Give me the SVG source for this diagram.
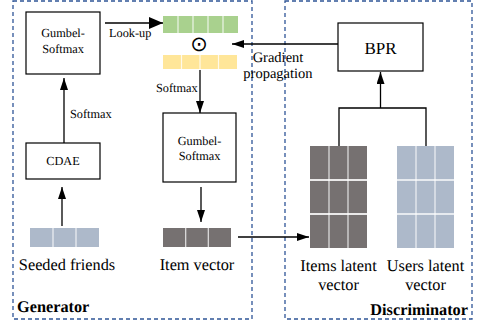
<svg xmlns="http://www.w3.org/2000/svg" width="491" height="329" viewBox="0 0 491 329">
<style>
.box{fill:#fff;stroke:#000;stroke-width:1.2}
.frame{fill:none;stroke:#2f5597;stroke-width:1.3;stroke-dasharray:4 3}
.ln{fill:none;stroke:#000;stroke-width:1.3}
.sep{stroke:#fff;stroke-width:1.2;opacity:0.8}
</style>
<defs>
<marker id="ah" markerUnits="userSpaceOnUse" markerWidth="12" markerHeight="8" refX="12" refY="4" orient="auto">
<path d="M0,0 L12,4 L0,8 z" fill="#000"/>
</marker>
<marker id="ahL" markerUnits="userSpaceOnUse" markerWidth="14" markerHeight="12" refX="14" refY="6" orient="auto">
<path d="M0,0 L14,6 L0,12 z" fill="#000"/>
</marker>
</defs>
<rect width="491" height="329" fill="#fff"/>

<g font-family="Liberation Serif" fill="#000" text-rendering="geometricPrecision">
<g id="generator-frame">
<rect class="frame" x="13" y="1" width="239" height="318"/>
<text x="17" y="312" font-size="16.3" font-weight="bold">Generator</text>
</g>
<g id="discriminator-frame">
<rect class="frame" x="285" y="1" width="187" height="318"/>
<text x="468" y="315" font-size="16.3" font-weight="bold" text-anchor="end">Discriminator</text>
</g>

<g id="gumbel1">
<rect class="box" x="26" y="12" width="74" height="62"/>
<text x="63" y="37" font-size="12.3" text-anchor="middle">Gumbel-</text>
<text x="63" y="53" font-size="12.3" text-anchor="middle">Softmax</text>
</g>

<g id="cdae">
<rect class="box" x="26" y="143" width="74" height="36"/>
<text x="63" y="165" font-size="12.3" text-anchor="middle">CDAE</text>
</g>

<g id="seeded-friends">
<rect x="30" y="228" width="69" height="19" fill="#adb9ca"/>
<line class="sep" x1="53" y1="228" x2="53" y2="247"/>
<line class="sep" x1="76" y1="228" x2="76" y2="247"/>
<text x="67" y="270" font-size="16.3" text-anchor="middle">Seeded friends</text>
</g>

<g id="embedding-green">
<rect x="163" y="16" width="75" height="17" fill="#a9d18e"/>
<line class="sep" x1="178" y1="16" x2="178" y2="33"/>
<line class="sep" x1="193" y1="16" x2="193" y2="33"/>
<line class="sep" x1="208" y1="16" x2="208" y2="33"/>
<line class="sep" x1="223" y1="16" x2="223" y2="33"/>
</g>

<g id="odot">
<text x="199" y="51" text-anchor="middle" font-family="DejaVu Sans" font-size="21">⊙</text>
</g>

<g id="embedding-yellow">
<rect x="163" y="55" width="74" height="14" fill="#ffe699"/>
<line class="sep" x1="181.5" y1="55" x2="181.5" y2="69"/>
<line class="sep" x1="200" y1="55" x2="200" y2="69"/>
<line class="sep" x1="218.5" y1="55" x2="218.5" y2="69"/>
</g>

<g id="gumbel2">
<rect class="box" x="163" y="113" width="73" height="69"/>
<text x="199.5" y="145" font-size="12.3" text-anchor="middle">Gumbel-</text>
<text x="199.5" y="160" font-size="12.3" text-anchor="middle">Softmax</text>
</g>

<g id="item-vector">
<rect x="163" y="228" width="68" height="19" fill="#767171"/>
<line class="sep" x1="185.7" y1="228" x2="185.7" y2="247"/>
<line class="sep" x1="208.3" y1="228" x2="208.3" y2="247"/>
<text x="197" y="270" font-size="16.3" text-anchor="middle">Item vector</text>
</g>

<g id="bpr">
<rect class="box" x="338" y="23" width="85" height="48"/>
<text x="380.5" y="54" text-anchor="middle" font-size="17">BPR</text>
</g>

<g id="items-latent">
<rect x="310" y="146" width="57" height="102" fill="#767171"/>
<line class="sep" x1="329" y1="146" x2="329" y2="248"/>
<line class="sep" x1="348" y1="146" x2="348" y2="248"/>
<line x1="310" y1="180" x2="367" y2="180" stroke="#fff" stroke-width="2" opacity="0.85"/>
<line x1="310" y1="214" x2="367" y2="214" stroke="#fff" stroke-width="2" opacity="0.85"/>
<text x="338.5" y="271" font-size="16.3" text-anchor="middle">Items latent</text>
<text x="338.5" y="290" font-size="16.3" text-anchor="middle">vector</text>
</g>

<g id="users-latent">
<rect x="397" y="146" width="57" height="102" fill="#adb9ca"/>
<line class="sep" x1="416" y1="146" x2="416" y2="248"/>
<line class="sep" x1="435" y1="146" x2="435" y2="248"/>
<line x1="397" y1="180" x2="454" y2="180" stroke="#fff" stroke-width="2" opacity="0.7"/>
<line x1="397" y1="214" x2="454" y2="214" stroke="#fff" stroke-width="2" opacity="0.7"/>
<text x="425.5" y="271" font-size="16.3" text-anchor="middle">Users latent</text>
<text x="425.5" y="290" font-size="16.3" text-anchor="middle">vector</text>
</g>

<g id="connectors">
<path class="ln" d="M105,23 H163" marker-end="url(#ahL)"/>
<text x="109" y="37" font-size="12.3">Look-up</text>
<path class="ln" d="M338,44 H232" marker-end="url(#ah)"/>
<text x="278" y="62" text-anchor="middle" font-size="14.5">Gradient</text>
<text x="278" y="78" text-anchor="middle" font-size="14.5">propagation</text>
<path class="ln" d="M200,70 V113" marker-end="url(#ah)"/>
<text x="156" y="92" font-size="12.3">Softmax</text>
<path class="ln" d="M64,143 V78" marker-end="url(#ah)"/>
<text x="70" y="118" font-size="12.3">Softmax</text>
<path class="ln" d="M62,226 V187" marker-end="url(#ah)"/>
<path class="ln" d="M201,187 V222" marker-end="url(#ah)"/>
<path class="ln" d="M238,237 H309" marker-end="url(#ah)"/>
<path class="ln" d="M339,146 V108 H426 V146"/>
<path class="ln" d="M380.5,108 V72" marker-end="url(#ah)"/>
</g>
</g>
</svg>
